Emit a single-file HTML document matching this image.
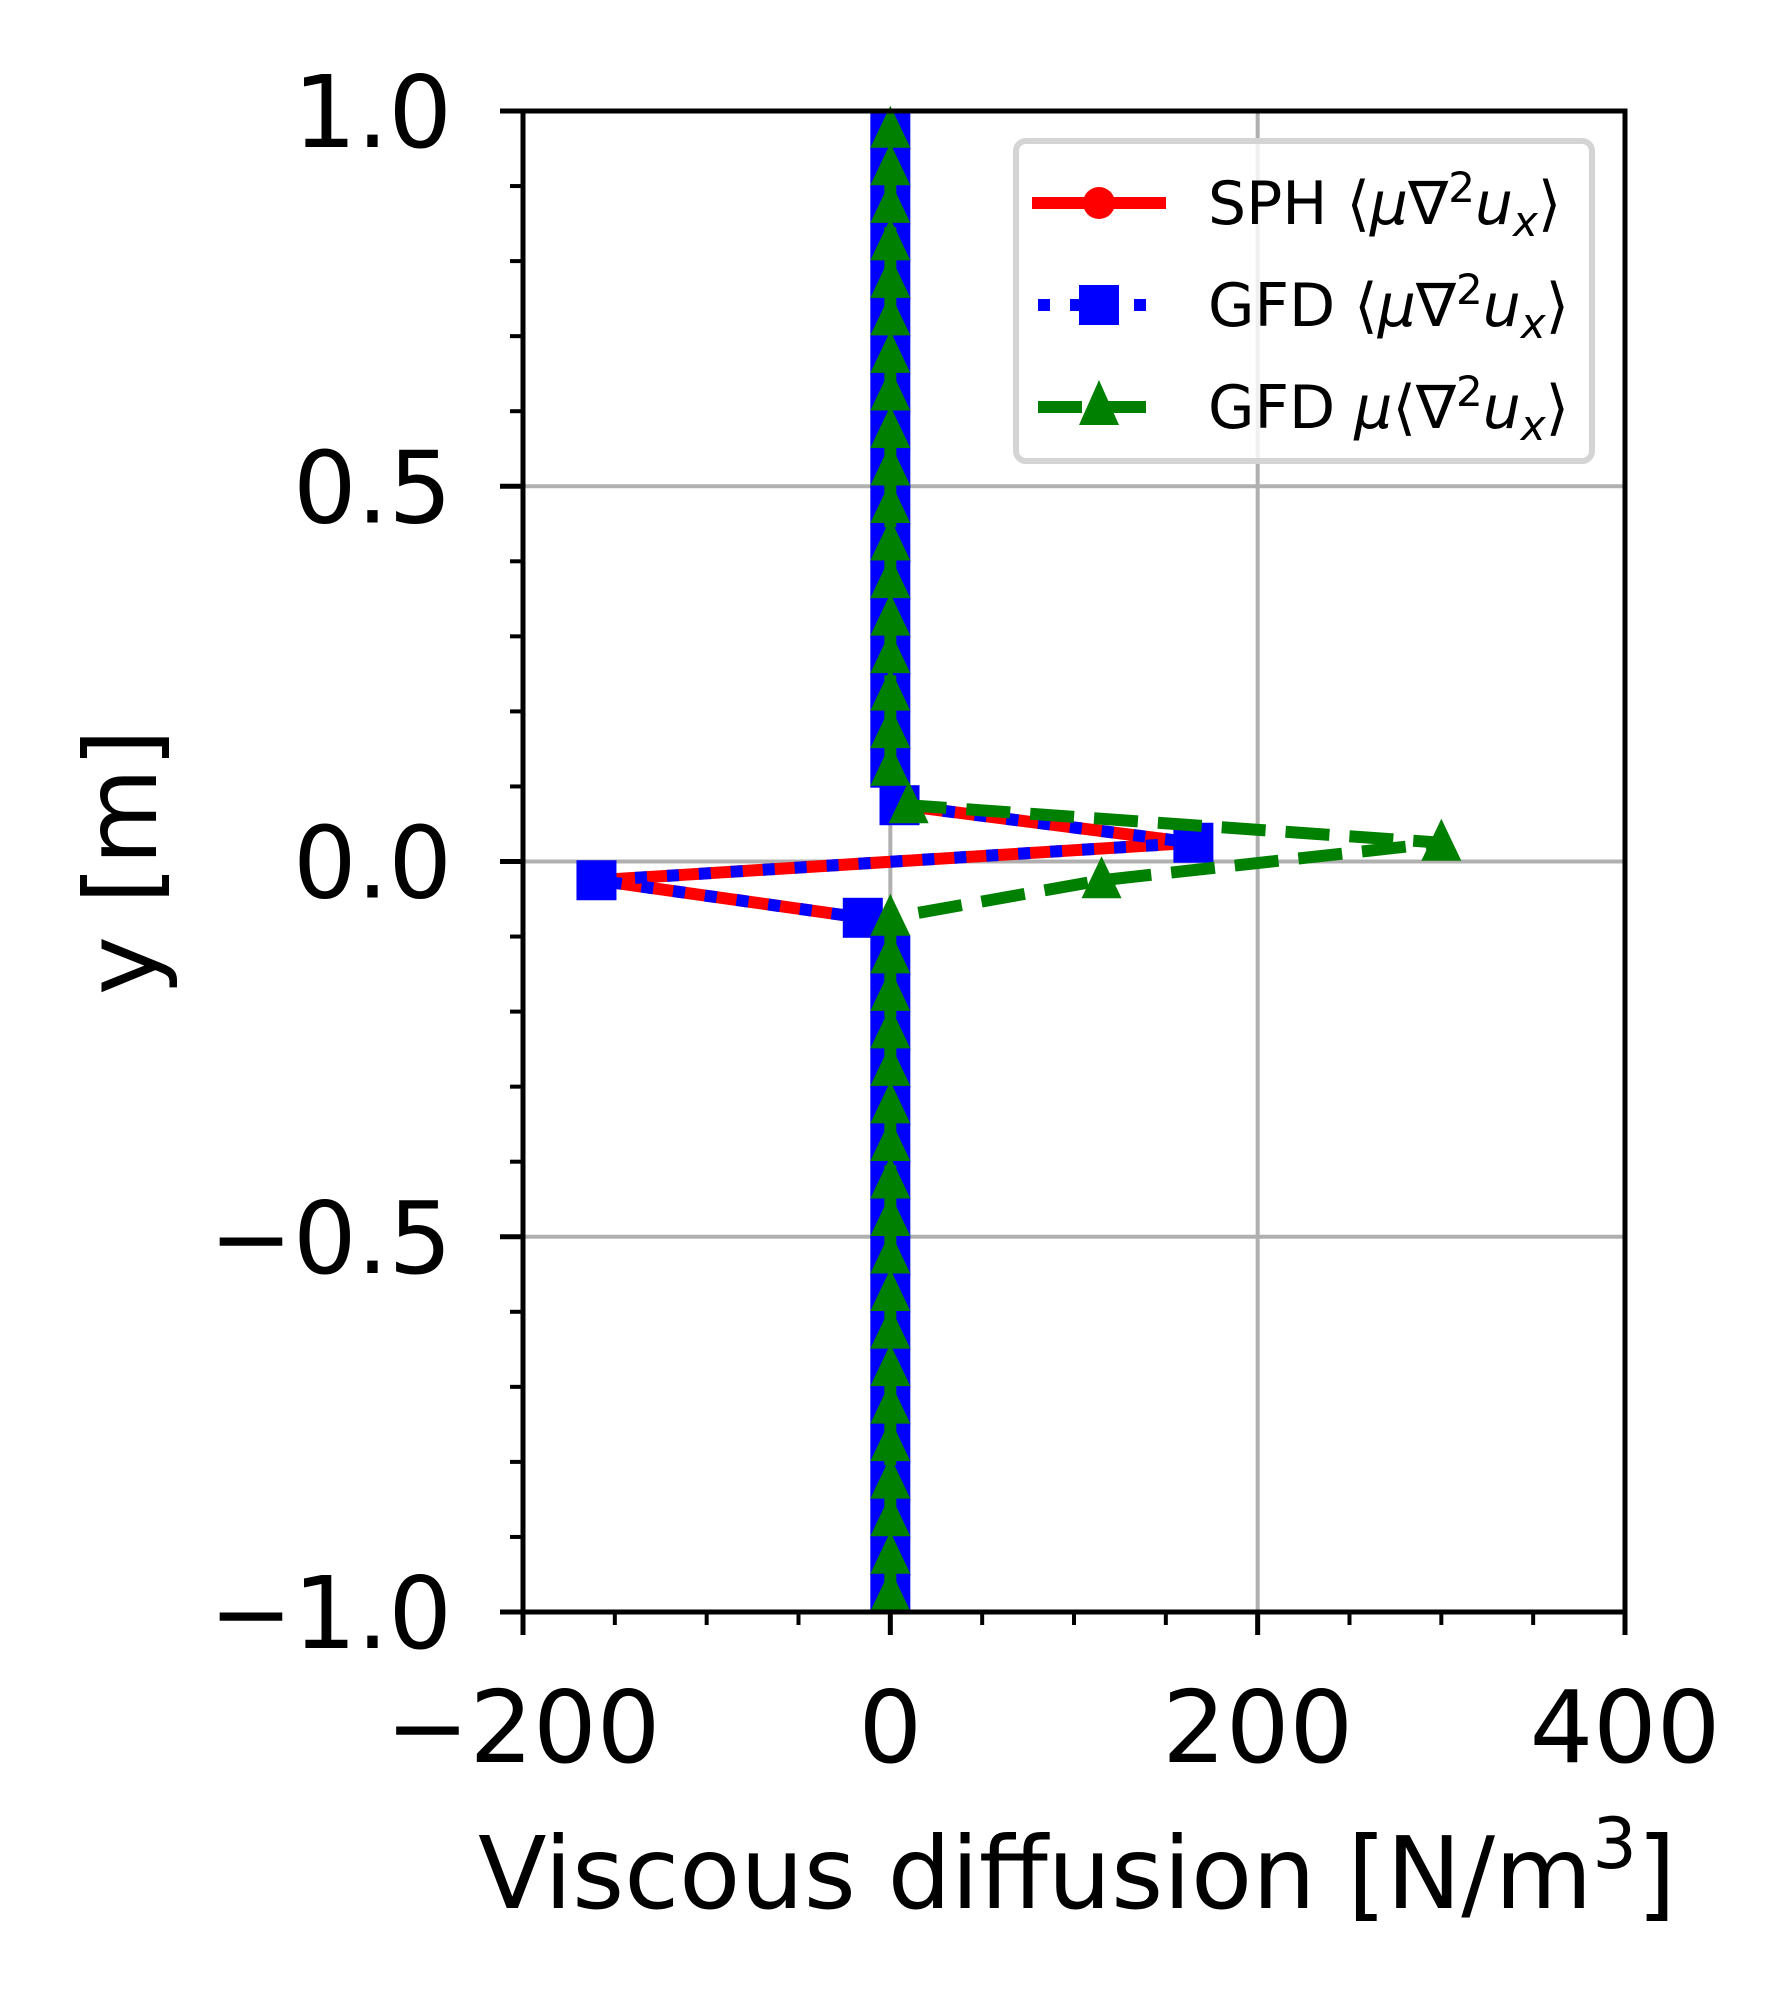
<!DOCTYPE html>
<html><head><meta charset="utf-8"><style>
body{margin:0;background:#fff}
svg text{font-family:"DejaVu Sans","Liberation Sans",sans-serif;fill:#000}
</style></head><body>
<svg id="chart" width="1787" height="1994" viewBox="0 0 1787 1994" xmlns="http://www.w3.org/2000/svg">
<rect width="1787" height="1994" fill="#fff"/>
<g id="grid"></g><g id="series"></g><g id="axes"></g><g id="legend"></g>
</svg>
<script>
const yValues=[];for(let i=0;i<40;i++)yValues.push(+(-0.975+0.05*i).toFixed(3));
const sphCenter=[-15,-160,165,5];
const gfdCenter=[-15,-160,165,5];
const gfd2Center=[0,115,300,10];
const xTicks=[-200,0,200,400];
const xTickLabels=["\u2212200","0","200","400"];
const yTicks=[-1,-0.5,0,0.5,1];
const yTickLabels=["\u22121.0","\u22120.5","0.0","0.5","1.0"];

const L=523,R=1625,T=111,B=1612;
const X=v=>L+(v+200)/600*(R-L);
const Y=v=>B-(v+1)/2*(B-T);
const NS="http://www.w3.org/2000/svg";
function mk(tag,attrs,parent){const e=document.createElementNS(NS,tag);for(const k in attrs)e.setAttribute(k,attrs[k]);parent.appendChild(e);return e;}
function buildSeries(center){return yValues.map((y,i)=>{const j=i-18;return (j>=0&&j<4)?center[j]:0;});}
const sph=buildSeries(sphCenter),gfd=buildSeries(gfdCenter),gfd2=buildSeries(gfd2Center);

const grid=document.getElementById('grid');
xTicks.forEach(v=>{const l=mk('line',{x1:X(v),x2:X(v),y1:T,y2:B,stroke:'#b0b0b0','stroke-width':4},grid);

});
yTicks.forEach(v=>{const l=mk('line',{x1:L,x2:R,y1:Y(v),y2:Y(v),stroke:'#b0b0b0','stroke-width':4},grid);

});

const S=document.getElementById('series');
function pts(xs){return xs.map((x,i)=>X(x)+','+Y(yValues[i])).join(' ');}
const g1=mk('g',{},S);


mk('polyline',{points:pts(sph),fill:'none',stroke:'#ff0000','stroke-width':12,'stroke-linejoin':'round'},g1);
sph.forEach((x,i)=>{const c=mk('circle',{cx:X(x),cy:Y(yValues[i]),r:16,fill:'#ff0000'},g1);

});
const g2=mk('g',{},S);


mk('polyline',{points:pts(gfd),fill:'none',stroke:'#0000ff','stroke-width':12,'stroke-dasharray':'12 20'},g2);
gfd.forEach((x,i)=>{const c=mk('rect',{x:X(x)-20,y:Y(yValues[i])-20,width:40,height:40,fill:'#0000ff'},g2);

});
const g3=mk('g',{},S);


mk('polyline',{points:pts(gfd2),fill:'none',stroke:'#008000','stroke-width':12,'stroke-dasharray':'44 20'},g3);
gfd2.forEach((x,i)=>{const cx=X(x),cy=Y(yValues[i]);const c=mk('polygon',{points:`${cx},${cy-24} ${cx-20},${cy+18} ${cx+20},${cy+18}`,fill:'#008000'},g3);

});

const A=document.getElementById('axes');
const frame=mk('rect',{x:L,y:T,width:R-L,height:B-T,fill:'none',stroke:'#000','stroke-width':5},A);


for(let v=-200;v<=400;v+=50){const major=v%200===0;mk('line',{x1:X(v),x2:X(v),y1:B,y2:B+(major?23:13),stroke:'#000','stroke-width':major?5:4},A);}
for(let k=-10;k<=10;k++){const v=k/10;const major=k%5===0;mk('line',{x1:L,x2:L-(major?23:13),y1:Y(v),y2:Y(v),stroke:'#000','stroke-width':major?5:4},A);}
xTicks.forEach((v,i)=>{const t=mk('text',{x:X(v),y:1762,'font-size':100,'text-anchor':'middle'},A);t.textContent=xTickLabels[i];

});
yTicks.forEach((v,i)=>{const t=mk('text',{x:452,y:Y(v)+36,'font-size':100,'text-anchor':'end'},A);t.textContent=yTickLabels[i];

});
const xl=mk('text',{x:1077,y:1908,'font-size':100,'text-anchor':'middle'},A);
xl.innerHTML='Viscous diffusion [N/m<tspan dy="-40" font-size="70">3</tspan><tspan dy="40">]</tspan>';


const yl=mk('text',{x:0,y:0,'font-size':100,'text-anchor':'middle',transform:'translate(156,862) rotate(-90)'},A);
yl.textContent='y [m]';



const G=document.getElementById('legend');
const box=mk('rect',{x:1016,y:141,width:576,height:320,rx:10,fill:'#fff','fill-opacity':0.8,stroke:'#d4d4d4','stroke-width':6},G);


const ly=[203,305,407];
const labels=['SPH','GFD','GFD'];
ly.forEach((y,i)=>{
 const e=mk('g',{},G);
 
 
 if(i===0){mk('line',{x1:1032,x2:1166,y1:y,y2:y,stroke:'#ff0000','stroke-width':12},e);mk('circle',{cx:1099,cy:y,r:16,fill:'#ff0000'},e);}
 if(i===1){mk('line',{x1:1038,x2:1166,y1:y,y2:y,stroke:'#0000ff','stroke-width':12,'stroke-dasharray':'12 20'},e);mk('rect',{x:1079,y:y-20,width:40,height:40,fill:'#0000ff'},e);}
 if(i===2){mk('line',{x1:1038,x2:1160,y1:y,y2:y,stroke:'#008000','stroke-width':12,'stroke-dasharray':'44 20'},e);mk('polygon',{points:`1099,${y-27} 1079,${y+18} 1119,${y+18}`,fill:'#008000'},e);}
 const t=mk('text',{x:1208,y:y+21,'font-size':60},e);
 if(i<2) t.innerHTML=labels[i]+' \u27E8<tspan font-style="italic">\u03BC</tspan>\u2207<tspan dy="-22" font-size="42">2</tspan><tspan dy="22" font-style="italic">u</tspan><tspan dy="12" font-size="42" font-style="italic">x</tspan><tspan dy="-12">\u27E9</tspan>';
 else t.innerHTML=labels[i]+' <tspan font-style="italic">\u03BC</tspan>\u27E8\u2207<tspan dy="-22" font-size="42">2</tspan><tspan dy="22" font-style="italic">u</tspan><tspan dy="12" font-size="42" font-style="italic">x</tspan><tspan dy="-12">\u27E9</tspan>';
});
</script>
</body></html>
